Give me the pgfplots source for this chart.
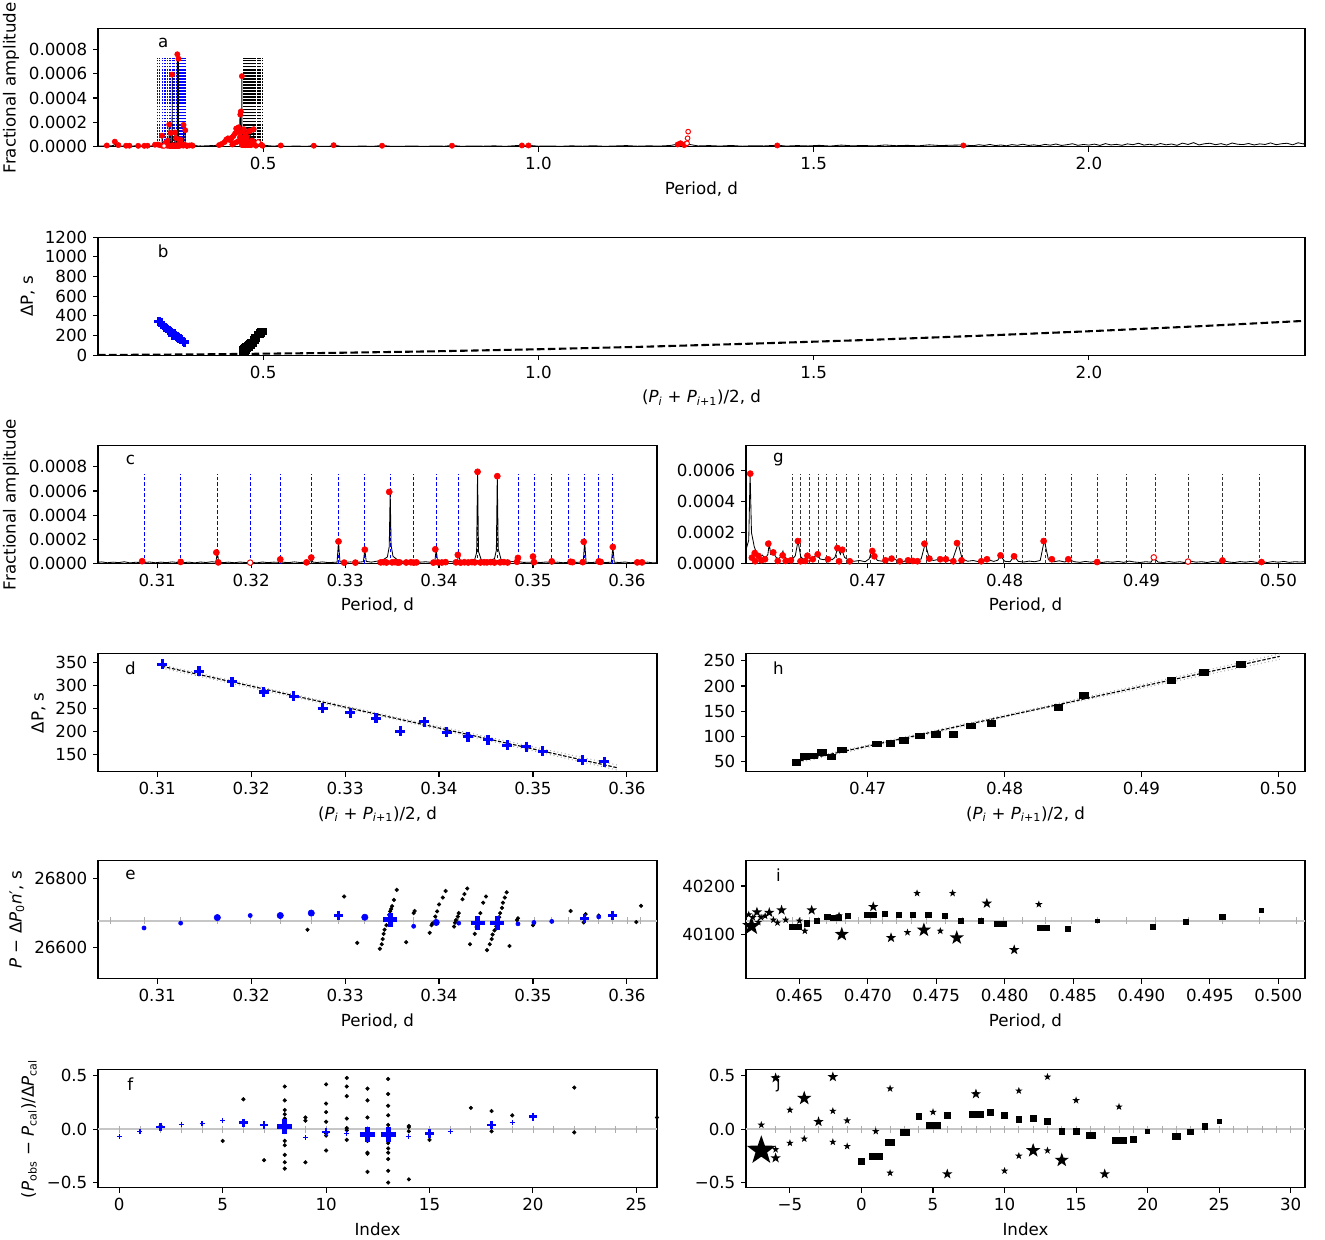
\documentclass[border=0pt]{standalone}
\usepackage{fontspec}
\setmainfont{DejaVu Sans}
\usepackage{pgfplots}
\pgfplotsset{compat=1.18}
\usepackage{pgfplotstable}

\pgfdeclareplotmark{fstar}{%
 \pgfpathmoveto{\pgfpointpolar{90}{1*\pgfplotmarksize}}%
 \pgfpathlineto{\pgfpointpolar{126}{0.4*\pgfplotmarksize}}%
 \pgfpathlineto{\pgfpointpolar{162}{1*\pgfplotmarksize}}%
 \pgfpathlineto{\pgfpointpolar{198}{0.4*\pgfplotmarksize}}%
 \pgfpathlineto{\pgfpointpolar{234}{1*\pgfplotmarksize}}%
 \pgfpathlineto{\pgfpointpolar{270}{0.4*\pgfplotmarksize}}%
 \pgfpathlineto{\pgfpointpolar{306}{1*\pgfplotmarksize}}%
 \pgfpathlineto{\pgfpointpolar{342}{0.4*\pgfplotmarksize}}%
 \pgfpathlineto{\pgfpointpolar{18}{1*\pgfplotmarksize}}%
 \pgfpathlineto{\pgfpointpolar{54}{0.4*\pgfplotmarksize}}%
 \pgfpathclose\pgfusepathqfill}

% ---------------- spectra (amplitude in units of 1e-6) ----------------
\pgfplotstableread[row sep=\\]{p a\\
0.200 8\\ 0.205 6\\ 0.212 9\\ 0.216 14\\ 0.220 7\\ 0.225 10\\ 0.229 12\\ 0.2306 45\\ 0.232 12\\ 0.237 14\\ 0.240 8\\ 0.245 6\\ 0.251 11\\ 0.257 9\\ 0.262 6\\ 0.268 10\\ 0.273 8\\ 0.278 6\\ 0.284 10\\ 0.290 9\\ 0.295 7\\ 0.300 10\\ 0.3035 9\\
}\specAone

\pgfplotstableread[row sep=\\]{p a\\
0.3035 9\\ 0.3041 14\\ 0.3047 7\\ 0.3053 12\\ 0.3059 8\\ 0.3065 15\\ 0.3071 6\\ 0.3077 11\\ 0.3083 9\\ 0.30845 12\\ 0.3086 22\\ 0.30875 10\\ 0.3092 13\\ 0.3098 7\\ 0.3104 12\\ 0.3110 8\\ 0.3116 14\\ 0.3122 9\\ 0.3125 16\\ 0.3128 8\\ 0.3134 12\\ 0.3140 6\\ 0.3146 13\\ 0.3152 9\\ 0.3158 15\\ 0.31625 12\\ 0.3164 95\\ 0.31655 14\\ 0.3170 8\\ 0.3176 12\\ 0.3182 7\\ 0.3188 13\\ 0.3194 9\\ 0.3200 11\\ 0.3206 6\\ 0.3212 13\\ 0.3218 8\\ 0.3224 12\\ 0.32295 10\\ 0.3231 35\\ 0.32325 12\\ 0.3240 8\\ 0.3246 14\\ 0.3252 9\\ 0.3258 12\\ 0.32625 14\\ 0.3264 50\\ 0.32655 13\\ 0.3270 9\\ 0.3276 14\\ 0.3282 8\\ 0.32915 12\\ 0.3293 185\\ 0.32945 15\\ 0.3300 10\\ 0.3306 14\\ 0.3312 9\\ 0.33195 16\\ 0.3321 115\\ 0.33225 18\\ 0.3328 12\\ 0.3334 20\\ 0.3340 28\\ 0.3345 55\\ 0.3347 140\\ 0.3348 595\\ 0.3349 150\\ 0.3351 60\\ 0.3356 30\\ 0.3362 18\\ 0.3368 14\\ 0.3374 20\\ 0.3380 12\\ 0.3386 15\\ 0.3392 10\\ 0.33955 16\\ 0.3397 118\\ 0.33985 15\\ 0.3404 12\\ 0.3410 18\\ 0.3416 14\\ 0.34195 18\\ 0.3421 75\\ 0.34225 20\\ 0.3428 22\\ 0.3434 28\\ 0.3438 35\\ 0.3440 90\\ 0.3441 760\\ 0.3442 100\\ 0.3445 30\\ 0.3450 25\\ 0.3455 30\\ 0.3459 40\\ 0.3461 110\\ 0.3462 725\\ 0.3463 120\\ 0.3466 35\\ 0.3470 22\\ 0.3476 18\\ 0.34825 14\\ 0.3484 50\\ 0.34855 15\\ 0.3490 10\\ 0.34995 12\\ 0.3501 60\\ 0.35025 12\\ 0.3508 9\\ 0.3514 13\\ 0.3520 8\\ 0.3526 12\\ 0.3532 7\\ 0.3538 11\\ 0.3544 9\\ 0.35535 13\\ 0.3555 185\\ 0.35565 12\\ 0.3562 8\\ 0.3568 13\\ 0.3574 7\\ 0.3580 10\\ 0.35835 12\\ 0.3585 138\\ 0.35865 12\\ 0.3592 9\\ 0.3598 13\\ 0.3604 7\\ 0.3610 11\\ 0.3616 8\\ 0.3622 12\\ 0.3628 6\\ 0.3635 10\\
}\specC

\pgfplotstableread[row sep=\\]{p a\\
0.3635 10\\ 0.366 10\\ 0.370 14\\ 0.374 8\\ 0.378 11\\ 0.382 7\\ 0.386 9\\ 0.390 6\\ 0.395 10\\ 0.400 8\\ 0.405 12\\ 0.410 10\\ 0.415 14\\ 0.420 18\\ 0.425 25\\ 0.430 35\\ 0.433 50\\ 0.436 60\\ 0.440 50\\ 0.443 65\\ 0.446 80\\ 0.449 95\\ 0.451 140\\ 0.453 110\\ 0.455 150\\ 0.457 110\\ 0.4580 265\\ 0.4585 120\\ 0.4590 290\\ 0.4595 150\\ 0.4600 170\\ 0.4605 180\\
}\specAtwo

\pgfplotstableread[row sep=\\]{p a\\
0.4605 180\\ 0.4609 160\\ 0.4611 90\\ 0.4613 150\\ 0.4614 580\\ 0.4615 200\\ 0.4617 110\\ 0.4619 60\\ 0.4621 45\\ 0.4623 55\\ 0.4625 30\\ 0.4627 60\\ 0.4628 130\\ 0.4629 60\\ 0.4631 70\\ 0.4633 40\\ 0.4635 30\\ 0.4637 55\\ 0.4638 80\\ 0.4639 45\\ 0.4641 30\\ 0.4643 25\\ 0.4645 30\\ 0.4647 50\\ 0.4649 145\\ 0.4651 45\\ 0.4653 25\\ 0.4656 50\\ 0.4658 30\\ 0.4660 35\\ 0.4663 65\\ 0.4665 30\\ 0.4668 25\\ 0.4671 35\\ 0.4674 25\\ 0.4676 40\\ 0.4678 100\\ 0.4680 60\\ 0.4681 90\\ 0.4683 40\\ 0.4686 22\\ 0.4690 15\\ 0.4694 20\\ 0.4698 12\\ 0.4701 30\\ 0.4703 85\\ 0.4705 50\\ 0.4707 20\\ 0.4711 15\\ 0.4715 28\\ 0.4718 35\\ 0.4722 18\\ 0.4726 12\\ 0.4729 25\\ 0.4732 15\\ 0.4736 22\\ 0.4739 30\\ 0.4742 130\\ 0.4745 30\\ 0.4748 20\\ 0.4752 28\\ 0.4755 25\\ 0.4758 18\\ 0.4762 25\\ 0.4766 130\\ 0.4769 30\\ 0.4773 15\\ 0.4777 20\\ 0.4781 12\\ 0.4785 18\\ 0.4788 25\\ 0.4792 14\\ 0.4795 22\\ 0.4797 50\\ 0.4800 15\\ 0.4804 12\\ 0.4807 48\\ 0.4810 14\\ 0.4814 10\\ 0.4818 16\\ 0.4822 12\\ 0.4826 20\\ 0.4829 150\\ 0.4832 25\\ 0.4836 12\\ 0.4840 18\\ 0.4844 10\\ 0.4847 25\\ 0.4851 12\\ 0.4855 8\\ 0.4859 14\\ 0.4863 9\\ 0.4867 15\\ 0.4871 7\\ 0.4875 12\\ 0.4879 9\\ 0.4883 14\\ 0.4887 8\\ 0.4891 16\\ 0.4895 10\\ 0.4899 7\\ 0.4903 12\\ 0.4907 9\\ 0.4909 40\\ 0.4912 10\\ 0.4916 7\\ 0.4920 13\\ 0.4924 8\\ 0.4928 12\\ 0.4932 6\\ 0.4936 15\\ 0.4940 9\\ 0.4944 12\\ 0.4948 7\\ 0.4952 14\\ 0.4956 8\\ 0.4960 18\\ 0.4964 10\\ 0.4968 7\\ 0.4972 13\\ 0.4976 9\\ 0.4980 14\\ 0.4984 8\\ 0.4988 12\\ 0.4992 7\\ 0.4996 13\\ 0.5000 9\\ 0.5004 14\\ 0.5008 8\\ 0.5012 12\\ 0.5016 10\\ 0.5020 13\\
}\specG

\pgfplotstableread[row sep=\\]{p a\\
0.502 13\\ 0.52 6\\ 0.532 14\\ 0.54 5\\ 0.56 7\\ 0.58 5\\ 0.592 12\\ 0.60 6\\ 0.62 5\\ 0.628 15\\ 0.64 6\\ 0.66 5\\ 0.68 7\\ 0.70 5\\ 0.716 12\\ 0.73 6\\ 0.75 5\\ 0.77 8\\ 0.79 5\\ 0.81 7\\ 0.83 6\\ 0.843 12\\ 0.86 5\\ 0.88 8\\ 0.90 6\\ 0.92 9\\ 0.94 5\\ 0.97 14\\ 0.982 13\\ 1.00 6\\ 1.02 8\\ 1.04 5\\ 1.06 9\\ 1.08 6\\ 1.10 10\\ 1.12 5\\ 1.14 8\\ 1.16 11\\ 1.18 6\\ 1.20 9\\ 1.22 7\\ 1.24 12\\ 1.255 25\\ 1.265 35\\ 1.275 20\\ 1.29 8\\ 1.31 11\\ 1.33 7\\ 1.35 12\\ 1.37 6\\ 1.39 10\\ 1.41 8\\ 1.434 14\\ 1.45 7\\ 1.47 11\\ 1.49 8\\ 1.51 13\\ 1.53 7\\ 1.55 15\\ 1.57 9\\ 1.59 12\\ 1.61 8\\ 1.63 16\\ 1.65 10\\ 1.67 13\\ 1.69 9\\ 1.71 17\\ 1.73 11\\ 1.75 14\\ 1.772 16\\ 1.79 10\\ 1.80 18\\ 1.81 12\\ 1.82 20\\ 1.83 11\\ 1.84 16\\ 1.85 9\\ 1.86 19\\ 1.87 13\\ 1.88 22\\ 1.89 12\\ 1.90 17\\ 1.91 10\\ 1.92 21\\ 1.93 14\\ 1.94 24\\ 1.95 12\\ 1.96 18\\ 1.97 26\\ 1.98 13\\ 1.99 20\\ 2.00 15\\ 2.01 23\\ 2.02 12\\ 2.03 27\\ 2.04 16\\ 2.05 21\\ 2.06 13\\ 2.07 25\\ 2.08 18\\ 2.09 30\\ 2.10 15\\ 2.11 22\\ 2.12 14\\ 2.13 28\\ 2.14 17\\ 2.15 24\\ 2.16 13\\ 2.17 31\\ 2.18 20\\ 2.19 35\\ 2.20 16\\ 2.21 26\\ 2.22 30\\ 2.23 18\\ 2.24 27\\ 2.25 15\\ 2.26 32\\ 2.27 22\\ 2.28 19\\ 2.29 28\\ 2.30 16\\ 2.31 25\\ 2.32 20\\ 2.33 33\\ 2.34 18\\ 2.35 26\\ 2.36 30\\ 2.37 17\\ 2.38 34\\ 2.39 24\\ 2.3925 38\\
}\specAthree

% ---------------- detected frequencies (red dots) ----------------
\pgfplotstableread[row sep=\\]{p a\\
0.3084 20\\ 0.3125 14\\ 0.3163 92\\ 0.3165 10\\ 0.3231 35\\ 0.3259 10\\ 0.3264 50\\ 0.3293 183\\ 0.3299 8\\ 0.3311 8\\ 0.3321 115\\ 0.3338 10\\ 0.3341 12\\ 0.3344 9\\ 0.3347 592\\ 0.3350 10\\ 0.3353 12\\ 0.3356 8\\ 0.3358 10\\ 0.3365 9\\ 0.3370 11\\ 0.3373 8\\ 0.3376 10\\ 0.3394 8\\ 0.3396 118\\ 0.3399 10\\ 0.3403 9\\ 0.3407 12\\ 0.3418 10\\ 0.3420 72\\ 0.3423 8\\ 0.3427 11\\ 0.3431 9\\ 0.3435 12\\ 0.3438 10\\ 0.3441 758\\ 0.3444 9\\ 0.3448 11\\ 0.3451 10\\ 0.3455 12\\ 0.3459 9\\ 0.3462 722\\ 0.3465 10\\ 0.3469 12\\ 0.3473 9\\ 0.3483 15\\ 0.3484 47\\ 0.3500 58\\ 0.3501 12\\ 0.3520 18\\ 0.3540 15\\ 0.3542 12\\ 0.3553 12\\ 0.3554 180\\ 0.3570 18\\ 0.3572 14\\ 0.3585 137\\ 0.3611 10\\ 0.3616 10\\
}\redC

\pgfplotstableread[row sep=\\]{p a\\
0.46141 579\\ 0.46153 38\\ 0.46174 68\\ 0.46177 15\\ 0.46201 49\\ 0.46222 21\\ 0.46249 28\\ 0.46273 128\\ 0.46309 72\\ 0.46342 17\\ 0.46378 53\\ 0.46400 17\\ 0.46438 21\\ 0.46489 145\\ 0.46508 15\\ 0.46544 17\\ 0.46559 51\\ 0.46598 28\\ 0.46634 60\\ 0.46709 28\\ 0.46778 100\\ 0.46790 15\\ 0.46814 89\\ 0.46868 15\\ 0.47033 81\\ 0.47048 47\\ 0.47129 21\\ 0.47174 32\\ 0.47234 15\\ 0.47294 21\\ 0.47330 17\\ 0.47363 15\\ 0.47414 128\\ 0.47450 32\\ 0.47529 28\\ 0.47571 28\\ 0.47625 15\\ 0.47652 132\\ 0.47685 21\\ 0.47829 15\\ 0.47871 28\\ 0.47970 53\\ 0.48069 47\\ 0.48285 145\\ 0.48345 28\\ 0.48465 28\\ 0.48676 10\\ 0.49592 20\\ 0.49877 10\\
}\redG

\pgfplotstableread[row sep=\\]{p a\\
0.216 12\\ 0.2306 43\\ 0.237 15\\ 0.251 10\\ 0.257 10\\ 0.273 9\\ 0.284 9\\ 0.290 10\\ 0.3035 18\\ 0.362 10\\ 0.366 12\\ 0.370 14\\ 0.372 10\\ 0.420 15\\ 0.425 25\\ 0.430 40\\ 0.433 60\\ 0.436 70\\ 0.440 55\\ 0.443 75\\ 0.444 20\\ 0.446 90\\ 0.447 30\\ 0.449 110\\ 0.451 150\\ 0.452 40\\ 0.453 130\\ 0.455 160\\ 0.456 50\\ 0.457 120\\ 0.458 80\\ 0.4585 265\\ 0.4595 290\\ 0.532 12\\ 0.592 10\\ 0.628 14\\ 0.716 10\\ 0.843 10\\ 0.970 12\\ 0.982 12\\ 1.253 20\\ 1.258 30\\ 1.265 15\\ 1.268 25\\ 1.434 12\\ 1.772 12\\
}\redA

% ---------------- mode grids ----------------
\pgfplotstableread[row sep=\\]{p ta tc\\
0.3086 730 736\\ 0.3125 730 736\\ 0.3164 730 736\\ 0.3199 730 736\\ 0.3231 730 736\\ 0.3264 730 736\\ 0.3293 730 736\\ 0.3321 730 736\\ 0.3348 730 736\\ 0.3373 730 736\\ 0.3397 730 736\\ 0.3421 730 736\\ 0.3441 730 736\\ 0.3462 730 736\\ 0.3484 730 736\\ 0.3501 730 736\\ 0.3520 730 736\\ 0.3538 730 736\\ 0.3555 730 736\\ 0.3570 730 736\\ 0.3585 730 736\\
}\modesC

\pgfplotstableread[row sep=\\]{p ta tg\\
0.4645 730 574\\ 0.4651 730 574\\ 0.4657 730 574\\ 0.4664 730 574\\ 0.4670 730 574\\ 0.4677 730 574\\ 0.4684 730 574\\ 0.4693 730 574\\ 0.4702 730 574\\ 0.4711 730 574\\ 0.4721 730 574\\ 0.4732 730 574\\ 0.4743 730 574\\ 0.4757 730 574\\ 0.4769 730 574\\ 0.4783 730 574\\ 0.4799 730 574\\ 0.4813 730 574\\ 0.4830 730 574\\ 0.4849 730 574\\ 0.4868 730 574\\ 0.4889 730 574\\ 0.4910 730 574\\ 0.4934 730 574\\ 0.4959 730 574\\ 0.4986 730 574\\
}\modesG

% ---------------- period spacings ----------------
\pgfplotstableread[row sep=\\]{p dp\\
0.31055 346\\ 0.31445 331\\ 0.31796 308\\ 0.32133 286\\ 0.32451 277\\ 0.32761 251\\ 0.33057 241\\ 0.33329 229\\ 0.33589 201\\ 0.33843 221\\ 0.34080 198\\ 0.34308 189\\ 0.34521 182\\ 0.34726 170\\ 0.34926 167\\ 0.35104 157\\ 0.35522 137\\ 0.35759 134\\
}\dataD

\pgfplotstableread[row sep=\\]{p dp\\
0.46477 48\\ 0.46537 60\\ 0.46597 61\\ 0.46663 68\\ 0.46733 59\\ 0.46808 73\\ 0.47063 85\\ 0.47165 86\\ 0.47265 92\\ 0.47382 101\\ 0.47499 104\\ 0.47625 104\\ 0.47754 121\\ 0.47902 126\\ 0.48392 157\\ 0.48578 181\\ 0.49218 212\\ 0.49453 227\\ 0.49723 244\\
}\dataH

\pgfplotsset{
  panel/.style={scale only axis, anchor=south west, tick pos=left, tick align=outside,
    major tick length=3.5pt, axis line style={line width=0.8pt},
    tick style={line width=0.8pt, black}, height=85pt,
    scaled y ticks=false, scaled x ticks=false,
    tick label style={font=\fontsize{12}{14}\selectfont},
    label style={font=\fontsize{12}{14}\selectfont},
    ylabel style={yshift=-1pt}},
  wide/.style={panel, width=869.04pt},
  half/.style={panel, width=402.48pt},
  spec/.style={black, line width=0.6pt, no marks},
  redd/.style={only marks, mark=*, mark size=#1, red, mark options={draw=red, fill=red}},
  redo/.style={only marks, mark=*, mark size=#1, red, mark options={draw=red, fill=white, line width=0.7pt}},
  bdot/.style={only marks, mark=*, mark size=1.3pt, black},
  zline/.style={gray!45, line width=1.6pt, no marks},
  zticks/.style={only marks, mark=|, mark size=2.6pt, gray!65, line width=0.6pt},
}
\tikzset{plab/.style={font=\fontsize{12}{14}\selectfont}}

\begin{document}
\fontsize{12}{14}\selectfont
\begin{tikzpicture}
\useasboundingbox (0,0) rectangle (954pt,892.8pt);

% ================= a =================
\begin{axis}[wide, at={(70.56pt,787pt)},
  xmin=0.2, xmax=2.3925, ymin=0, ymax=966,
  xtick={0.5,1.0,1.5,2.0}, xticklabels={0.5,1.0,1.5,2.0},
  ytick={0,200,400,600,800}, yticklabels={0.0000,0.0002,0.0004,0.0006,0.0008},
  xlabel={Period, d}, ylabel={Fractional amplitude}]
\addplot[blue, line width=0.7pt, dash pattern=on 1.2pt off 1pt, ycomb, no marks] table[x=p,y=ta]{\modesC};
\addplot[black, line width=0.7pt, dash pattern=on 1.2pt off 1pt, ycomb, no marks] table[x=p,y=ta]{\modesG};
\addplot[spec] table[x=p,y=a]{\specAone};
\addplot[spec] table[x=p,y=a]{\specC};
\addplot[spec] table[x=p,y=a]{\specAtwo};
\addplot[spec] table[x=p,y=a]{\specG};
\addplot[spec] table[x=p,y=a]{\specAthree};
\addplot[redd=1.9pt] table[x=p,y=a]{\redA};
\addplot[redd=1.9pt] table[x=p,y=a]{\redC};
\addplot[redd=1.9pt] table[x=p,y=a]{\redG};
\addplot[redo=1.7pt] coordinates {(1.270,30) (1.271,71) (1.272,125) (0.3199,8) (0.4909,40)};
\node[plab] at (rel axis cs:0.054,0.884) {a};
\end{axis}

% ================= b =================
\begin{axis}[wide, at={(70.56pt,637pt)},
  xmin=0.2, xmax=2.3925, ymin=0, ymax=1200,
  xtick={0.5,1.0,1.5,2.0}, xticklabels={0.5,1.0,1.5,2.0},
  ytick={0,200,400,600,800,1000,1200}, yticklabels={0,200,400,600,800,1000,1200},
  xlabel={(\textit{P}\textsubscript{\textit{i}} + \textit{P}\textsubscript{\textit{i}+1})/2, d}, ylabel={ΔP, s}]
\addplot[black, line width=1.5pt, dash pattern=on 5.5pt off 2.4pt, no marks] coordinates {(0.2,2.4) (0.4,9.8) (0.6,22) (0.8,39) (1.0,61) (1.2,88) (1.4,120) (1.6,156) (1.8,198) (2.0,244) (2.2,295) (2.3925,350)};
\addplot[only marks, blue, mark=+, mark size=3.2pt, line width=2.4pt] table[x=p,y=dp]{\dataD};
\addplot[only marks, black, mark=square*, mark size=2.4pt, mark options={xscale=1.3}] table[x=p,y=dp]{\dataH};
\node[plab] at (rel axis cs:0.054,0.884) {b};
\end{axis}

% ================= c =================
\begin{axis}[half, at={(70.56pt,487pt)},
  xmin=0.3037, xmax=0.3632, ymin=0, ymax=975,
  xtick={0.31,0.32,0.33,0.34,0.35,0.36}, xticklabels={0.31,0.32,0.33,0.34,0.35,0.36},
  ytick={0,200,400,600,800}, yticklabels={0.0000,0.0002,0.0004,0.0006,0.0008},
  xlabel={Period, d}, ylabel={Fractional amplitude}]
\addplot[blue, line width=0.5pt, dash pattern=on 2.5pt off 1.5pt, ycomb, no marks] table[x=p,y=tc]{\modesC};
\addplot[spec] table[x=p,y=a]{\specC};
\addplot[redd=2.2pt] table[x=p,y=a]{\redC};
\addplot[redo=2pt] coordinates {(0.3199,8)};
\node[plab] at (rel axis cs:0.058,0.88) {c};
\end{axis}

% ================= g =================
\begin{axis}[half, at={(537.12pt,487pt)},
  xmin=0.4611, xmax=0.50195, ymin=0, ymax=760,
  xtick={0.47,0.48,0.49,0.50}, xticklabels={0.47,0.48,0.49,0.50},
  ytick={0,200,400,600}, yticklabels={0.0000,0.0002,0.0004,0.0006},
  xlabel={Period, d}]
\addplot[black!80, line width=0.5pt, dash pattern=on 2.5pt off 1.5pt, ycomb, no marks] table[x=p,y=tg]{\modesG};
\addplot[spec] table[x=p,y=a]{\specG};
\addplot[redd=2.2pt] table[x=p,y=a]{\redG};
\addplot[redo=2pt] coordinates {(0.4909,40) (0.4934,13)};
\node[plab] at (rel axis cs:0.058,0.88) {g};
\end{axis}

% ================= d =================
\begin{axis}[half, at={(70.56pt,337pt)},
  xmin=0.3037, xmax=0.3632, ymin=112, ymax=369,
  xtick={0.31,0.32,0.33,0.34,0.35,0.36}, xticklabels={0.31,0.32,0.33,0.34,0.35,0.36},
  ytick={150,200,250,300,350}, yticklabels={150,200,250,300,350},
  xlabel={(\textit{P}\textsubscript{\textit{i}} + \textit{P}\textsubscript{\textit{i}+1})/2, d}, ylabel={ΔP, s}]
\addplot[gray!70, line width=0.7pt, dotted, no marks] coordinates {(0.3105,345) (0.3350,233) (0.3590,127)};
\addplot[gray!70, line width=0.7pt, dotted, no marks] coordinates {(0.3105,338) (0.3350,228) (0.3590,116)};
\addplot[black, line width=0.8pt, dash pattern=on 2.5pt off 1.2pt, no marks] coordinates {(0.3105,342) (0.3590,121)};
\addplot[only marks, blue, mark=+, mark size=3.6pt, line width=2.2pt] table[x=p,y=dp]{\dataD};
\node[plab] at (rel axis cs:0.058,0.88) {d};
\end{axis}

% ================= h =================
\begin{axis}[half, at={(537.12pt,337pt)},
  xmin=0.4611, xmax=0.50195, ymin=29, ymax=264,
  xtick={0.47,0.48,0.49,0.50}, xticklabels={0.47,0.48,0.49,0.50},
  ytick={50,100,150,200,250}, yticklabels={50,100,150,200,250},
  xlabel={(\textit{P}\textsubscript{\textit{i}} + \textit{P}\textsubscript{\textit{i}+1})/2, d}]
\addplot[gray!70, line width=0.7pt, dotted, no marks] coordinates {(0.4647,51) (0.4825,157) (0.5001,264)};
\addplot[gray!70, line width=0.7pt, dotted, no marks] coordinates {(0.4647,46) (0.4825,153) (0.5001,253)};
\addplot[black, line width=0.8pt, dash pattern=on 2.5pt off 1.2pt, no marks] coordinates {(0.4647,49) (0.5001,259)};
\addplot[only marks, black, mark=square*, mark size=2.1pt, mark options={xscale=1.5}] table[x=p,y=dp]{\dataH};
\node[plab] at (rel axis cs:0.058,0.88) {h};
\end{axis}

% ================= e =================
\begin{axis}[half, at={(70.56pt,188pt)},
  xmin=0.3037, xmax=0.3632, ymin=26510, ymax=26851,
  xtick={0.31,0.32,0.33,0.34,0.35,0.36}, xticklabels={0.31,0.32,0.33,0.34,0.35,0.36},
  ytick={26600,26800}, yticklabels={26600,26800},
  xlabel={Period, d}, ylabel={\textit{P} − Δ\textit{P}\textsubscript{0}\textit{n}′, s}]
\addplot[zline] coordinates {(0.3037,26678) (0.3632,26678)};
\addplot[zticks] coordinates {(0.3050,26678) (0.3086,26678) (0.3125,26678) (0.3164,26678) (0.3199,26678) (0.3231,26678) (0.3264,26678) (0.3293,26678) (0.3321,26678) (0.3348,26678) (0.3373,26678) (0.3397,26678) (0.3421,26678) (0.3441,26678) (0.3462,26678) (0.3484,26678) (0.3501,26678) (0.3520,26678) (0.3538,26678) (0.3555,26678) (0.3570,26678) (0.3585,26678) (0.3600,26678) (0.3614,26678)};
\addplot[bdot] coordinates {
(0.3337,26597) (0.3339,26610) (0.3340,26625) (0.3341,26640) (0.3342,26652) (0.3344,26665) (0.3345,26680) (0.3347,26695) (0.3348,26705) (0.3349,26712) (0.3350,26720) (0.3352,26738) (0.3355,26767)
(0.3390,26643) (0.3392,26665) (0.3393,26670) (0.3396,26690) (0.3398,26705) (0.3400,26725) (0.3404,26745) (0.3407,26764)
(0.3416,26661) (0.3417,26672) (0.3418,26680) (0.3420,26690) (0.3421,26700) (0.3425,26740) (0.3427,26755) (0.3430,26771)
(0.3433,26610) (0.3438,26640) (0.3440,26660) (0.3444,26700) (0.3447,26730) (0.3450,26748)
(0.3451,26593) (0.3454,26610) (0.3456,26625) (0.3457,26638) (0.3459,26650) (0.3461,26662) (0.3463,26675) (0.3464,26688) (0.3465,26700) (0.3467,26715) (0.3468,26730) (0.3470,26745) (0.3472,26760)
(0.3299,26748) (0.3313,26614) (0.3260,26652) (0.3164,26687) (0.3365,26616) (0.3373,26700) (0.3374,26706) (0.3475,26605) (0.3483,26680) (0.3484,26685) (0.3500,26665) (0.3501,26670) (0.3540,26706) (0.3554,26673) (0.3556,26697) (0.3570,26693) (0.3610,26674) (0.3615,26721)};
\addplot[only marks, blue, mark=*, mark size=1.5pt] coordinates {(0.3086,26657) (0.3125,26671) (0.3199,26693) (0.3373,26662) (0.3421,26671) (0.3484,26669) (0.3501,26673) (0.3520,26676) (0.3570,26689)};
\addplot[only marks, blue, mark=*, mark size=2.3pt] coordinates {(0.3164,26687) (0.3231,26693) (0.3264,26700) (0.3321,26688) (0.3397,26673)};
\addplot[only marks, blue, mark=+, mark size=3.2pt, line width=2.2pt] coordinates {(0.3293,26694) (0.3555,26684) (0.3585,26694)};
\addplot[only marks, blue, mark=+, mark size=5pt, line width=3.4pt] coordinates {(0.3348,26681) (0.3441,26671) (0.3462,26671)};
\node[plab] at (rel axis cs:0.058,0.88) {e};
\end{axis}

% ================= i =================
\begin{axis}[half, at={(537.12pt,188pt)},
  xmin=0.4611, xmax=0.50195, ymin=40008, ymax=40252,
  xtick={0.465,0.470,0.475,0.480,0.485,0.490,0.495,0.500},
  xticklabels={0.465,0.470,0.475,0.480,0.485,0.490,0.495,0.500},
  ytick={40100,40200}, yticklabels={40100,40200},
  xlabel={Period, d}]
\addplot[zline] coordinates {(0.4611,40128) (0.50195,40128)};
\addplot[zticks] coordinates {(0.4645,40128) (0.4651,40128) (0.4657,40128) (0.4664,40128) (0.4670,40128) (0.4677,40128) (0.4684,40128) (0.4693,40128) (0.4702,40128) (0.4711,40128) (0.4721,40128) (0.4732,40128) (0.4743,40128) (0.4757,40128) (0.4769,40128) (0.4783,40128) (0.4799,40128) (0.4813,40128) (0.4830,40128) (0.4849,40128) (0.4868,40128) (0.4889,40128) (0.4910,40128) (0.4934,40128) (0.4959,40128) (0.4986,40128) (0.5013,40128)};
\addplot[only marks, black, mark=square*, mark size=1.9pt] coordinates {(0.46554,40123) (0.46629,40128) (0.46704,40137) (0.46855,40138) (0.47125,40143) (0.47225,40141) (0.4733,40140) (0.47441,40141) (0.47561,40138) (0.47682,40128) (0.47826,40128) (0.48463,40112) (0.4908,40116) (0.49326,40126) (0.49591,40136)};
\addplot[only marks, black, mark=square*, mark size=1.9pt, mark options={xscale=2.2}] coordinates {(0.46470,40116) (0.46765,40134) (0.4702,40141) (0.47967,40122) (0.48283,40114)};
\addplot[only marks, black, mark=square*, mark size=1.4pt] coordinates {(0.48674,40128) (0.49877,40150)};
\addplot[only marks, black, mark=fstar, mark size=2.8pt] coordinates {(0.4613,40141) (0.4622,40135) (0.4625,40138) (0.4631,40130) (0.4634,40124) (0.4640,40130) (0.4650,40128) (0.4654,40107) (0.4679,40139) (0.4729,40104) (0.4736,40185) (0.4753,40107) (0.4762,40185) (0.4825,40162) (0.4620,40125) (0.4616,40135)};
\addplot[only marks, black, mark=fstar, mark size=3.9pt] coordinates {(0.4619,40146) (0.4628,40145) (0.4637,40150) (0.4659,40150) (0.4704,40157) (0.4787,40164) (0.4807,40068) (0.4717,40093)};
\addplot[only marks, black, mark=fstar, mark size=5.4pt] coordinates {(0.4681,40100) (0.4741,40109) (0.4765,40093)};
\addplot[only marks, black, mark=fstar, mark size=7pt] coordinates {(0.4615,40117)};
\node[plab] at (rel axis cs:0.058,0.88) {i};
\end{axis}

% ================= f =================
\begin{axis}[half, at={(70.56pt,37.5pt)},
  xmin=-1.03, xmax=26, ymin=-0.55, ymax=0.556,
  xtick={0,5,10,15,20,25}, xticklabels={0,5,10,15,20,25},
  ytick={-0.5,0,0.5}, yticklabels={−0.5,0.0,0.5},
  xlabel={Index}, ylabel={(\textit{P}\textsubscript{obs} − \textit{P}\textsubscript{cal})/Δ\textit{P}\textsubscript{cal}}]
\addplot[zline] coordinates {(-1.03,0) (26,0)};
\addplot[zticks] coordinates {(0,0) (1,0) (2,0) (3,0) (4,0) (5,0) (6,0) (7,0) (8,0) (9,0) (10,0) (11,0) (12,0) (13,0) (14,0) (15,0) (16,0) (17,0) (18,0) (19,0) (20,0) (21,0) (22,0) (23,0) (24,0) (25,0)};
\addplot[bdot] coordinates {(2,0.03) (5,-0.11) (6,0.28) (7,-0.29)
(8,0.40) (8,0.27) (8,0.18) (8,0.14) (8,0.10) (8,0.07) (8,0.03) (8,0.01) (8,-0.025) (8,-0.11) (8,-0.15) (8,-0.24) (8,-0.31) (8,-0.37)
(9,0.11) (9,0.08) (9,-0.31)
(10,0.42) (10,0.24) (10,0.16) (10,0.07) (10,-0.04) (10,-0.06) (10,-0.20)
(11,0.48) (11,0.40) (11,0.31) (11,0.10) (11,0.01) (11,-0.01) (11,-0.10)
(12,0.38) (12,0.27) (12,0.11) (12,-0.01) (12,-0.06) (12,-0.11) (12,-0.22) (12,-0.23) (12,-0.40)
(13,0.47) (13,0.33) (13,0.22) (13,0.13) (13,0.04) (13,-0.02) (13,-0.06) (13,-0.08) (13,-0.13) (13,-0.18) (13,-0.22) (13,-0.28) (13,-0.39) (13,-0.50)
(14,0.03) (14,0.02) (14,-0.02) (14,-0.47) (15,-0.10) (17,0.20) (18,0.17) (18,-0.02) (19,0.13) (22,0.39) (22,-0.03) (26,0.11)};
\addplot[only marks, blue, mark=+, mark size=1.8pt, line width=0.9pt] coordinates {(0,-0.066) (1,-0.025) (3,0.047) (4,0.053) (5,0.081) (9,-0.078) (11,-0.04) (14,-0.066) (16,-0.025) (19,0.063)};
\addplot[only marks, blue, mark=+, mark size=3pt, line width=1.9pt] coordinates {(2,0.022) (6,0.06) (7,0.038) (10,-0.025) (15,-0.04) (18,0.038) (20,0.116)};
\addplot[only marks, blue, mark=+, mark size=5.5pt, line width=3.5pt] coordinates {(8,0.022) (12,-0.047) (13,-0.047)};
\node[plab] at (rel axis cs:0.058,0.88) {f};
\end{axis}

% ================= j =================
\begin{axis}[half, at={(537.12pt,37.5pt)},
  xmin=-8.07, xmax=31, ymin=-0.55, ymax=0.556,
  xtick={-5,0,5,10,15,20,25,30}, xticklabels={−5,0,5,10,15,20,25,30},
  ytick={-0.5,0,0.5}, yticklabels={−0.5,0.0,0.5},
  xlabel={Index}]
\addplot[zline] coordinates {(-8.07,0) (31,0)};
\addplot[zticks] coordinates {(-6,0) (-5,0) (-4,0) (-3,0) (-2,0) (-1,0) (0,0) (1,0) (2,0) (3,0) (4,0) (5,0) (6,0) (7,0) (8,0) (9,0) (10,0) (11,0) (12,0) (13,0) (14,0) (15,0) (16,0) (17,0) (18,0) (19,0) (20,0) (21,0) (22,0) (23,0) (24,0) (25,0) (26,0) (27,0) (28,0) (29,0) (30,0)};
\addplot[only marks, black, mark=square*, mark size=2pt] coordinates {(0,-0.30) (4,0.119) (6,0.129) (9,0.16) (10,0.129) (11,0.091) (12,0.10) (13,0.075) (14,-0.022) (15,-0.022) (19,-0.094) (23,-0.025) (24,0.025)};
\addplot[only marks, black, mark=square*, mark size=2pt, mark options={xscale=1.6}] coordinates {(2,-0.125) (3,-0.031) (16,-0.056) (22,-0.066)};
\addplot[only marks, black, mark=square*, mark size=2pt, mark options={xscale=2.5}] coordinates {(1,-0.254) (5,0.038) (8,0.138) (18,-0.103)};
\addplot[only marks, black, mark=square*, mark size=1.5pt] coordinates {(20,-0.019) (25,0.075)};
\addplot[only marks, black, mark=fstar, mark size=2.8pt] coordinates {(-7,0.04) (-6,-0.19) (-5,0.18) (-5,-0.13) (-4,-0.09) (-2,0.17) (-2,-0.12) (-1,0.08) (-1,-0.16) (1,-0.02) (2,0.38) (2,-0.41) (5,0.16) (10,-0.39) (11,0.36) (11,-0.25) (13,0.49) (13,-0.20) (15,0.27) (18,0.21)};
\addplot[only marks, black, mark=fstar, mark size=3.9pt] coordinates {(-6,0.48) (-6,-0.27) (-3,0.07) (-2,0.49) (6,-0.42) (8,0.33) (17,-0.42)};
\addplot[only marks, black, mark=fstar, mark size=5.4pt] coordinates {(-4,0.29) (12,-0.20) (14,-0.29)};
\addplot[only marks, black, mark=fstar, mark size=11pt] coordinates {(-7,-0.20)};
\node[plab] at (rel axis cs:0.058,0.88) {j};
\end{axis}

\end{tikzpicture}
\end{document}
